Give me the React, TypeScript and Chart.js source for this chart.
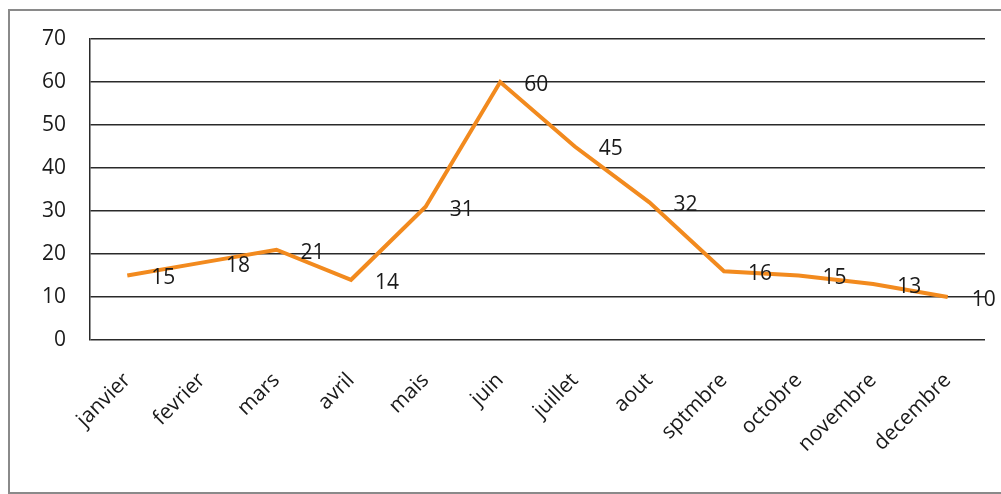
import React, { useEffect, useRef } from "react";
import { Chart, registerables } from "chart.js";

Chart.register(...registerables);

const months = ["janvier", "fevrier", "mars", "avril", "mais", "juin", "juillet", "aout", "sptmbre", "octobre", "novembre", "decembre"];
const values = [15, 18, 21, 14, 31, 60, 45, 32, 16, 15, 13, 10];
const yTicks = [0, 10, 20, 30, 40, 50, 60, 70];

const FONT = "'Open Sans', 'Liberation Sans', sans-serif";

const labelPlugin = {
  id: "pointLabels",
  afterDatasetsDraw(chart: any) {
    const ctx = chart.ctx;
    const meta = chart.getDatasetMeta(0);
    ctx.save();
    ctx.fillStyle = "#1a1a1a";
    ctx.font = `21px ${FONT}`;
    ctx.textAlign = "left";
    ctx.textBaseline = "middle";
    meta.data.forEach((pt: any, i: number) => {
      ctx.fillText(String(values[i]), pt.x + 24, pt.y + 3);
    });
    ctx.restore();
  },
};

export default function App() {
  const ref = useRef<HTMLCanvasElement | null>(null);
  useEffect(() => {
    if (!ref.current) return;
    const chart = new Chart(ref.current, {
      type: "line",
      data: {
        labels: months,
        datasets: [
          {
            data: values,
            borderColor: "#F28A1E",
            borderWidth: 4,
            pointRadius: 0,
            tension: 0,
            fill: false,
          },
        ],
      },
      options: {
        responsive: false,
        animation: false,
        layout: { padding: { top: 28, right: 16, left: 0, bottom: 0 } },
        plugins: { legend: { display: false }, tooltip: { enabled: false } },
        scales: {
          x: {
            offset: true,
            grid: { display: false, drawTicks: false, offset: true },
            border: { display: false },
            ticks: {
              color: "#1a1a1a",
              font: { family: FONT, size: 21 },
              maxRotation: 45,
              minRotation: 45,
              padding: 28,
              autoSkip: false,
            },
            afterFit(scale: any) {
              scale.height = 150;
              scale.paddingLeft = 0;
              scale.paddingRight = 0;
            },
          },
          y: {
            min: 0,
            max: 70,
            afterBuildTicks(scale: any) {
              scale.ticks = yTicks.map((v) => ({ value: v }));
            },
            grid: { color: "#2a2a2a", lineWidth: 1.5, drawTicks: false },
            border: { display: true, color: "#2a2a2a", width: 1.5 },
            ticks: {
              color: "#1a1a1a",
              font: { family: FONT, size: 21 },
              padding: 24,
            },
            afterFit(scale: any) {
              scale.width = 80;
              scale.paddingTop = 0;
              scale.paddingBottom = 0;
            },
          },
        },
      },
      plugins: [labelPlugin],
    });
    return () => chart.destroy();
  }, []);
  return (
    <div
      style={{
        position: "fixed",
        left: 8,
        top: 9,
        width: 993,
        height: 481,
        border: "2px solid #8a8a8a",
        borderRight: "none",
        background: "#fff",
      }}
    >
      <canvas ref={ref} width={991} height={479} style={{ display: "block" }} />
    </div>
  );
}
